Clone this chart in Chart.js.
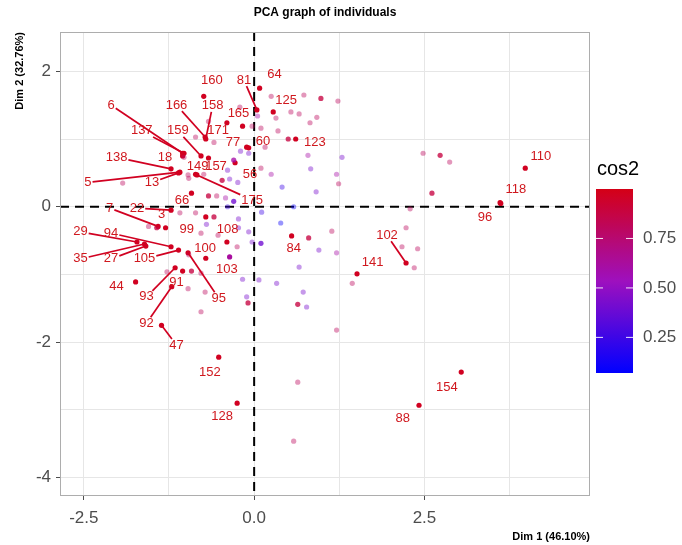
<!DOCTYPE html>
<html><head><meta charset="utf-8">
<script src="https://cdn.jsdelivr.net/npm/chart.js@4/dist/chart.umd.min.js"></script>
<style>html,body{margin:0;padding:0;background:#fff}canvas{display:block}</style>
</head><body>
<canvas id="c" width="682" height="545"></canvas>
<script>
// ---- labelled individuals (high cos2) ----
const labNames = ['160','81','64','6','166','158','171','165','137','159','77','60','123','125','18','138','149','157','5','13','56','175','66','7','22','3','99','108','29','94','35','27','105','100','95','103','44','93','91','92','47','152','128','84','141','102','96','118','110','154','88'];
const labX = [-0.74,0.04,0.08,-1.05,-0.72,-0.71,-0.40,-0.17,-1.03,-0.78,-0.11,-0.08,0.61,0.28,-1.05,-1.22,-0.86,-0.67,-1.09,-1.11,-0.28,-0.84,-0.92,-1.41,-1.22,-1.30,-0.71,-0.40,-1.72,-1.22,-1.61,-1.59,-1.11,-0.71,-0.97,-0.36,-1.74,-1.16,-1.05,-1.21,-1.36,-0.52,-0.25,0.55,1.51,2.23,3.61,3.62,3.98,3.04,2.42];
const labY = [1.63,1.43,1.75,0.79,1.03,1.00,1.24,1.19,0.79,0.75,0.88,0.87,1.00,1.40,0.75,0.56,0.48,0.72,0.51,0.50,0.65,0.47,0.20,-0.29,-0.05,-0.31,-0.15,-0.52,-0.52,-0.59,-0.55,-0.58,-0.64,-0.76,-0.68,-0.74,-1.11,-0.90,-0.95,-1.18,-1.75,-2.22,-2.90,-0.43,-0.99,-0.83,0.06,0.05,0.57,-2.44,-2.93];
const labCos2 = [0.97,0.97,0.97,0.97,0.97,0.97,0.97,0.97,0.97,0.97,0.97,0.97,0.97,0.97,0.97,0.97,0.97,0.97,0.97,0.97,0.97,0.97,0.97,0.97,0.97,0.97,0.97,0.97,0.97,0.97,0.97,0.97,0.97,0.97,0.97,0.62,0.97,0.97,0.97,0.97,0.97,0.97,0.97,0.97,0.97,0.97,0.97,0.97,0.97,0.97,0.97];
// repelled label anchor (data units)
const labTextX = [-0.62,-0.15,0.30,-2.10,-1.14,-0.61,-0.53,-0.23,-1.65,-1.12,-0.31,0.13,0.89,0.47,-1.31,-2.02,-0.83,-0.56,-2.44,-1.50,-0.06,-0.03,-1.06,-2.12,-1.72,-1.36,-0.99,-0.39,-2.55,-2.10,-2.55,-2.10,-1.61,-0.72,-0.52,-0.40,-2.02,-1.58,-1.14,-1.58,-1.14,-0.65,-0.47,0.58,1.74,1.95,3.39,3.84,4.21,2.83,2.18];
const labTextY = [1.87,1.87,1.96,1.50,1.50,1.49,1.13,1.38,1.12,1.12,0.95,0.97,0.95,1.57,0.73,0.73,0.59,0.59,0.36,0.36,0.48,0.10,0.10,-0.02,-0.02,-0.12,-0.33,-0.34,-0.37,-0.39,-0.77,-0.77,-0.77,-0.61,-1.35,-0.93,-1.17,-1.33,-1.11,-1.72,-2.04,-2.44,-3.10,-0.62,-0.82,-0.42,-0.15,0.25,0.75,-2.66,-3.12];

// ---- other individuals (faded) ----
const otherX = [-0.21,-0.03,-0.86,-0.59,-0.67,-1.03,-0.97,-0.96,-0.74,-0.55,-0.86,-1.09,-1.55,-0.78,-0.53,-0.25,-0.96,-0.78,-1.28,-0.97,-0.72,-0.78,-1.93,0.25,0.73,1.23,0.54,0.66,0.32,0.82,0.92,0.10,0.35,0.16,0.10,1.24,1.14,1.44,1.21,0.64,0.58,2.48,2.87,2.29,2.23,2.17,2.40,2.35,
  0.05,-0.42,1.21,0.25,1.21,0.79,
  -0.20,-0.08,-0.39,-0.36,-0.24,-0.70,-0.23,-0.23,-0.08,-0.03,-0.17,0.07,-0.11,1.29,0.83,0.91,0.95,0.66,0.33,0.72,0.77,
  0.11,0.41,-0.39,0.58,0.39];
const otherY = [1.47,1.19,1.03,0.95,1.26,0.73,0.47,0.42,0.48,0.16,-0.09,-0.09,-0.29,-0.39,-0.42,-0.59,-0.71,-0.98,-0.96,-1.21,-1.26,-1.55,0.35,1.63,1.65,1.56,1.40,1.37,1.31,1.24,1.32,1.16,1.12,0.88,0.57,0.34,-0.36,-1.13,-1.82,-2.59,-3.46,0.79,0.66,-0.03,-0.31,-0.59,-0.62,-0.90,
  1.34,0.13,0.48,0.48,-0.68,0.76,
  0.82,0.79,0.54,0.41,0.36,-0.26,-0.18,-0.31,-0.37,-0.52,-1.07,-1.08,-1.33,0.73,0.56,0.22,-0.64,-0.89,-1.13,-1.26,-1.48,
  -0.08,0.29,0.00,0.00,-0.24];
const otherCos2 = [0.8,0.8,0.8,0.8,0.8,0.8,0.8,0.8,0.8,0.8,0.8,0.8,0.8,0.8,0.8,0.8,0.8,0.8,0.8,0.8,0.8,0.8,0.8,0.8,0.8,0.8,0.8,0.8,0.8,0.8,0.8,0.8,0.8,0.8,0.8,0.8,0.8,0.8,0.8,0.8,0.8,0.8,0.8,0.8,0.8,0.8,0.8,0.8,
  0.6,0.6,0.6,0.6,0.6,0.6,
  0.42,0.42,0.42,0.42,0.42,0.42,0.42,0.42,0.42,0.42,0.42,0.42,0.42,0.42,0.42,0.42,0.42,0.42,0.42,0.42,0.42,
  0.25,0.25,0.25,0.1,0.1];
// faded but darker individuals
const midX = [-0.67,-0.59,-0.47,-0.92,0.50,0.98,0.80,0.64,-0.09,2.73,2.61,-1.43,-0.30,0.10,-0.30];
const midY = [0.16,-0.15,0.39,-0.95,1.00,1.60,-0.46,-1.44,-1.42,0.76,0.20,-0.31,0.08,-0.54,0.69];
const midCos2 = [0.88,0.88,0.88,0.88,0.88,0.88,0.88,0.88,0.88,0.88,0.88,0.88,0.4,0.4,0.6];

// ---- scales / legend ----
const cos2Range = [0.07, 1.0];
const legendTicks = [0.25, 0.5, 0.75];
const xTicks = [-2.5, -1.25, 0, 1.25, 2.5, 3.75];
const xMajor = [-2.5, 0, 2.5];
const yTicks = [-4, -3, -2, -1, 0, 1, 2];
const yMajor = [-4, -2, 0, 2];

const FONT = "'Liberation Sans', Arial, sans-serif";
Chart.defaults.font.family = FONT;

function cos2Color(c, a) {
  let t = (c - cos2Range[0]) / (cos2Range[1] - cos2Range[0]);
  t = Math.max(0, Math.min(1, t));
  const stops = [[0, [0, 0, 255]], [0.5, [158, 16, 190]], [1, [212, 0, 22]]];
  const i = t <= 0.5 ? 0 : 1;
  const [t0, c0] = stops[i], [t1, c1] = stops[i + 1];
  const u = (t - t0) / (t1 - t0);
  const rgb = c0.map((v, k) => Math.round(v + (c1[k] - v) * u));
  return `rgba(${rgb[0]},${rgb[1]},${rgb[2]},${a})`;
}

const pcaPlugin = {
  id: 'pca',
  beforeDatasetsDraw(chart) {
    const { ctx, chartArea: a, scales: { x, y } } = chart;
    ctx.save();
    ctx.strokeStyle = '#000'; ctx.lineWidth = 2; ctx.setLineDash([9, 6]);
    const px = x.getPixelForValue(0), py = y.getPixelForValue(0);
    ctx.beginPath(); ctx.moveTo(a.left, py); ctx.lineTo(a.right, py); ctx.stroke();
    ctx.beginPath(); ctx.moveTo(px, a.top); ctx.lineTo(px, a.bottom); ctx.stroke();
    ctx.restore();
  },
  afterDatasetsDraw(chart) {
    const { ctx, scales: { x, y } } = chart;
    ctx.save();
    ctx.font = '13px ' + FONT;
    ctx.textAlign = 'center'; ctx.textBaseline = 'middle';
    labNames.forEach((n, i) => {
      const px = x.getPixelForValue(labX[i]), py = y.getPixelForValue(labY[i]);
      const lx = x.getPixelForValue(labTextX[i]), ly = y.getPixelForValue(labTextY[i]);
      const w = ctx.measureText(n).width / 2 + 1, h = 6;
      const dx = px - lx, dy = py - ly;
      if (Math.hypot(dx, dy) > 24) {
        const s = Math.min(dx !== 0 ? w / Math.abs(dx) : Infinity, dy !== 0 ? h / Math.abs(dy) : Infinity);
        ctx.strokeStyle = cos2Color(labCos2[i], 1); ctx.lineWidth = 1.7;
        ctx.beginPath(); ctx.moveTo(lx + dx * s, ly + dy * s); ctx.lineTo(px, py); ctx.stroke();
      }
    });
    ctx.fillStyle = '#D0181E';
    labNames.forEach((n, i) => {
      ctx.fillText(n, x.getPixelForValue(labTextX[i]), y.getPixelForValue(labTextY[i]));
    });
    ctx.restore();
  },
  afterDraw(chart) {
    const { ctx, chartArea: a } = chart;
    ctx.save();
    // panel frame
    ctx.strokeStyle = '#ADADAD'; ctx.lineWidth = 1;
    ctx.strokeRect(a.left + 0.5, a.top + 0.5, a.right - a.left - 1, a.bottom - a.top - 1);
    // titles
    ctx.fillStyle = '#000';
    ctx.font = 'bold 12px ' + FONT;
    ctx.textAlign = 'center'; ctx.textBaseline = 'middle';
    ctx.fillText('PCA graph of individuals', (a.left + a.right) / 2, 13);
    ctx.font = 'bold 11px ' + FONT;
    ctx.textAlign = 'right';
    ctx.fillText('Dim 1 (46.10%)', a.right, 537);
    ctx.save();
    ctx.translate(20, a.top);
    ctx.rotate(-Math.PI / 2);
    ctx.textAlign = 'right';
    ctx.fillText('Dim 2 (32.76%)', 0, 0);
    ctx.restore();
    // colour bar
    const bx = 596, bw = 37, bt = 189, bb = 373;
    const g = ctx.createLinearGradient(0, bb, 0, bt);
    for (let k = 0; k <= 20; k++) {
      const c = cos2Range[0] + (cos2Range[1] - cos2Range[0]) * k / 20;
      g.addColorStop(k / 20, cos2Color(c, 1));
    }
    ctx.fillStyle = g;
    ctx.fillRect(bx, bt, bw, bb - bt);
    ctx.font = '20px ' + FONT;
    ctx.fillStyle = '#000';
    ctx.textAlign = 'left'; ctx.textBaseline = 'middle';
    ctx.fillText('cos2', 597, 169);
    ctx.font = '17px ' + FONT;
    ctx.fillStyle = '#4D4D4D';
    legendTicks.forEach(v => {
      const yy = bb - (v - cos2Range[0]) / (cos2Range[1] - cos2Range[0]) * (bb - bt);
      ctx.strokeStyle = 'rgba(255,255,255,0.9)'; ctx.lineWidth = 1;
      ctx.beginPath(); ctx.moveTo(bx, yy); ctx.lineTo(bx + 7, yy);
      ctx.moveTo(bx + bw - 7, yy); ctx.lineTo(bx + bw, yy); ctx.stroke();
      ctx.fillText(v.toFixed(2), 643, yy);
    });
    ctx.restore();
  }
};

new Chart(document.getElementById('c'), {
  type: 'scatter',
  data: {
    datasets: [
      { data: otherX.map((v, i) => ({ x: v, y: otherY[i] })), backgroundColor: otherCos2.map(c => cos2Color(c, 0.42)), pointRadius: 2.6, borderWidth: 0 },
      { data: midX.map((v, i) => ({ x: v, y: midY[i] })), backgroundColor: midCos2.map(c => cos2Color(c, 0.78)), pointRadius: 2.6, borderWidth: 0 },
      { data: labX.map((v, i) => ({ x: v, y: labY[i] })), backgroundColor: labCos2.map(c => cos2Color(c, 1)), pointRadius: 2.6, borderWidth: 0 }
    ]
  },
  options: {
    responsive: false, animation: false, devicePixelRatio: 1, events: [],
    layout: { padding: { top: 32, right: 92, left: 0, bottom: 0 } },
    plugins: { legend: { display: false }, tooltip: { enabled: false } },
    scales: {
      x: {
        type: 'linear', min: -2.85, max: 4.93,
        afterBuildTicks: s => { s.ticks = xTicks.map(v => ({ value: v })); },
        afterFit: s => { s.height = 49; },
        ticks: { autoSkip: false, maxRotation: 0, padding: 8, font: { size: 17 }, color: '#4D4D4D',
          callback: v => xMajor.includes(v) ? v.toFixed(1) : '' },
        grid: { color: '#E6E6E6', tickLength: 4,
          tickColor: ctx => (ctx.tick && xMajor.includes(ctx.tick.value)) ? '#4D4D4D' : 'rgba(0,0,0,0)' },
        border: { display: false }
      },
      y: {
        type: 'linear', min: -4.27, max: 2.58,
        afterBuildTicks: s => { s.ticks = yTicks.map(v => ({ value: v })); },
        afterFit: s => { s.width = 60; },
        ticks: { autoSkip: false, padding: 5, font: { size: 17 }, color: '#4D4D4D',
          callback: v => yMajor.includes(v) ? String(v) : '' },
        grid: { color: '#E6E6E6', tickLength: 4,
          tickColor: ctx => (ctx.tick && yMajor.includes(ctx.tick.value)) ? '#4D4D4D' : 'rgba(0,0,0,0)' },
        border: { display: false }
      }
    }
  },
  plugins: [pcaPlugin]
});
</script>
</body></html>
